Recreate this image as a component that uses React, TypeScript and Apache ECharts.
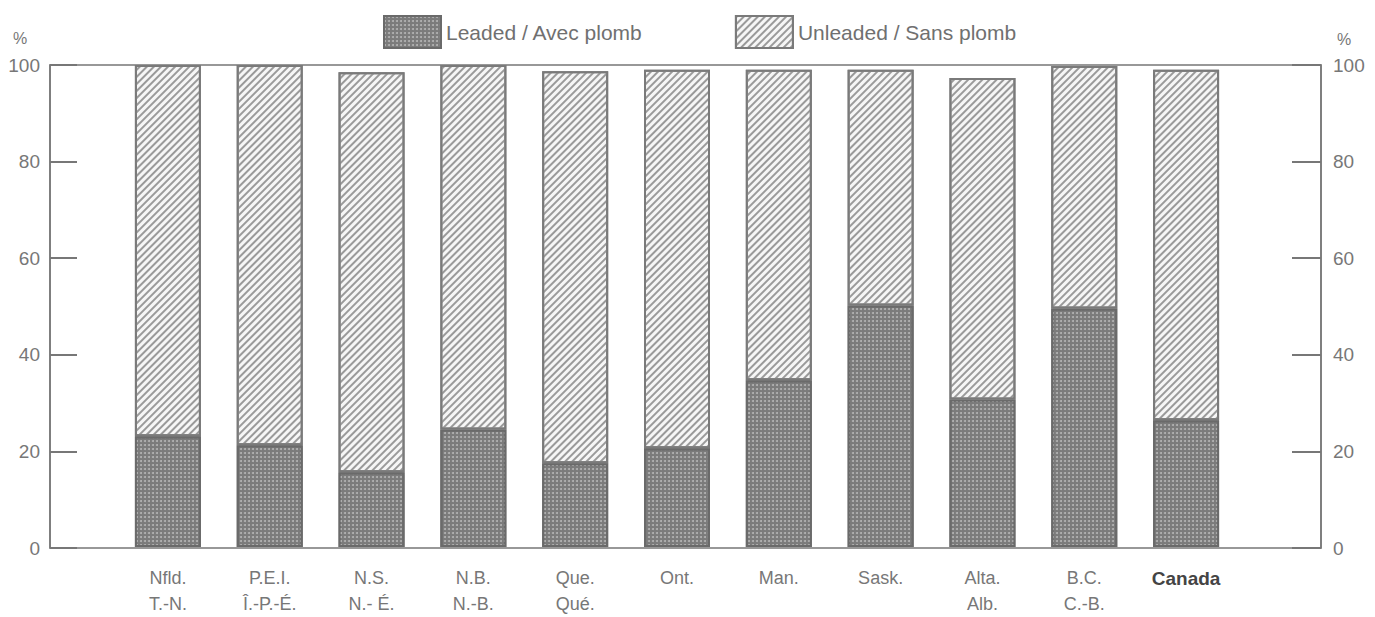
import React, { useEffect, useRef } from "react";
import * as echarts from "echarts";

const categories = [
  "Nfld.\nT.-N.",
  "P.E.I.\nÎ.-P.-É.",
  "N.S.\nN.- É.",
  "N.B.\nN.-B.",
  "Que.\nQué.",
  "Ont.",
  "Man.",
  "Sask.",
  "Alta.\nAlb.",
  "B.C.\nC.-B.",
  "Canada",
];
const leaded = [23.0, 21.1, 15.5, 24.4, 17.4, 20.5, 34.6, 50.1, 30.6, 49.5, 26.3];
const unleaded = [77.0, 78.9, 83.0, 75.6, 81.3, 78.5, 64.4, 48.9, 66.7, 50.3, 72.7];
const yTicks = [0, 20, 40, 60, 80, 100];
const seriesNames = ["Leaded / Avec plomb", "Unleaded / Sans plomb"];

const FONT = "'Liberation Sans', Arial, sans-serif";

export default function App() {
  const ref = useRef<HTMLDivElement>(null);
  useEffect(() => {
    if (!ref.current) return;
    const chart = echarts.init(ref.current, undefined, { renderer: "svg" });
    const yCommon = {
      type: "value" as const,
      min: yTicks[0],
      max: yTicks[yTicks.length - 1],
      interval: 20,
      splitLine: { show: false },
    };
    chart.setOption({
      animation: false,
      backgroundColor: "#ffffff",
      textStyle: { fontFamily: FONT },
      legend: {
        data: seriesNames,
        left: 378,
        top: 10,
        icon: "rect",
        itemWidth: 57,
        itemHeight: 32,
        itemGap: 92,
        textStyle: { fontSize: 21, color: "#707070", fontFamily: FONT },
      },
      grid: [
        { left: 50, right: 54, top: 65, bottom: 69, show: true, borderColor: "#777", borderWidth: 1.5, backgroundColor: "transparent" },
        { left: 117, right: 138, top: 65, bottom: 69 },
      ],
      xAxis: [
        { type: "value", gridIndex: 0, show: false, min: 0, max: 1 },
        {
          type: "category",
          gridIndex: 1,
          data: categories,
          axisLine: { show: false },
          axisTick: { show: false },
          axisLabel: {
            interval: 0,
            hideOverlap: false,
            margin: 18,
            fontSize: 18,
            color: "#777",
            lineHeight: 26,
            fontFamily: FONT,
            formatter: (v: string) => (v === "Canada" ? "{b|Canada}" : v),
            rich: { b: { fontWeight: "bold", color: "#444", fontSize: 19, fontFamily: FONT, lineHeight: 26 } },
          },
        },
      ],
      yAxis: [
        {
          ...yCommon,
          gridIndex: 0,
          position: "left",
          axisLine: { show: true, lineStyle: { color: "#777", width: 1.5 } },
          axisTick: { show: true, inside: true, length: 27, lineStyle: { color: "#777", width: 2 } },
          axisLabel: { fontSize: 19, color: "#777", margin: 10, fontFamily: FONT },
        },
        {
          ...yCommon,
          gridIndex: 0,
          position: "right",
          axisLine: { show: true, lineStyle: { color: "#777", width: 1.5 } },
          axisTick: { show: true, inside: true, length: 29, lineStyle: { color: "#777", width: 2 } },
          axisLabel: { fontSize: 19, color: "#777", margin: 12, fontFamily: FONT },
        },
        { ...yCommon, gridIndex: 1, show: false },
      ],
      graphic: [
        { type: "text", left: 13, top: 30, style: { text: "%", fontSize: 16, fill: "#777", fontFamily: FONT } },
        { type: "text", left: 1337, top: 31, style: { text: "%", fontSize: 16, fill: "#777", fontFamily: FONT } },
      ],
      series: [
        {
          name: seriesNames[0],
          type: "bar",
          stack: "total",
          xAxisIndex: 1,
          yAxisIndex: 2,
          barWidth: 66,
          data: leaded,
          itemStyle: {
            color: "#7b7b7b",
            borderColor: "#6a6a6a",
            borderWidth: 2,
            decal: {
              symbol: "circle",
              symbolSize: 1,
              color: "#b4b4b4",
              dashArrayX: [2, 2],
              dashArrayY: [2, 2],
            },
          },
        },
        {
          name: seriesNames[1],
          type: "bar",
          stack: "total",
          xAxisIndex: 1,
          yAxisIndex: 2,
          barWidth: 66,
          data: unleaded,
          itemStyle: {
            color: "#f6f6f6",
            borderColor: "#7a7a7a",
            borderWidth: 2,
            decal: {
              symbol: "rect",
              symbolSize: 1,
              color: "#9a9a9a",
              dashArrayX: [1, 0],
              dashArrayY: [2, 3],
              rotation: -Math.PI / 4,
            },
          },
        },
      ],
    });
    return () => chart.dispose();
  }, []);
  return <div ref={ref} style={{ width: 1375, height: 617, position: "absolute", left: 0, top: 0 }} />;
}
